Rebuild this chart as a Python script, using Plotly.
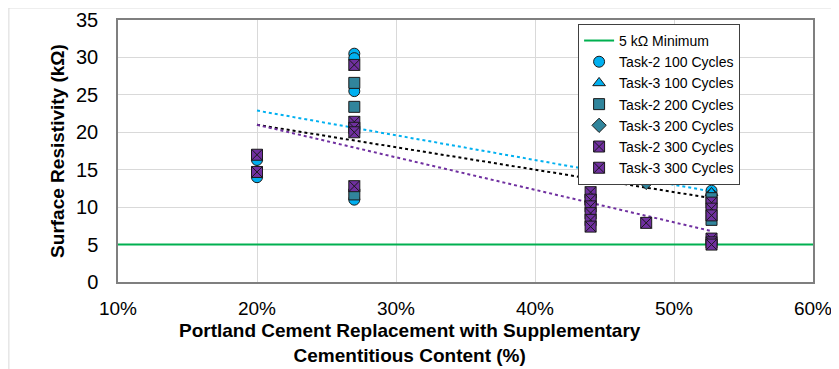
import plotly.graph_objects as go

# ---- data (x in %, y in kOhm) ----
t2_100_x = [20, 20, 27, 27, 27, 27, 52.7, 52.7]
t2_100_y = [16.3, 14.0, 30.5, 29.9, 25.5, 11.0, 12.2, 11.6]

t3_100_x = [48, 52.7]
t3_100_y = [15.6, 11.9]

t2_200_x = [27, 27, 27, 44, 52.7, 52.7]
t2_200_y = [26.6, 23.4, 11.7, 11.0, 11.2, 8.3]

t3_200_x = [44, 44, 44, 44, 48]
t3_200_y = [17.9, 17.4, 16.3, 15.2, 13.3]

t2_300_x = [20, 20, 27, 27, 27, 27, 52.7, 52.7]
t2_300_y = [17.0, 14.7, 29.0, 21.4, 20.6, 12.8, 5.8, 5.3]

t3_300_x = [27, 44, 44, 44, 44, 44, 44, 48, 52.7, 52.7, 52.7, 52.7]
t3_300_y = [20.0, 12.0, 11.0, 10.1, 9.2, 8.3, 7.4, 7.9, 10.6, 9.8, 8.9, 5.0]

min_x = [10, 60]
min_y = [5, 5]

trend_x = [20, 52.7]
trend_cyan = [22.9, 12.1]
trend_black = [21.0, 11.2]
trend_purple = [21.0, 6.8]

x_ticks = [10, 20, 30, 40, 50, 60]
x_labels = ["10%", "20%", "30%", "40%", "50%", "60%"]

CYAN = "#00B0F0"
TEAL = "#31859C"
PURPLE = "#7030A0"
GREEN = "#00B050"
EDGE = "#1a1a1a"
FONT = "Liberation Sans, Arial, sans-serif"

fig = go.Figure()

fig.add_trace(go.Scatter(x=min_x, y=min_y, mode="lines", name="5 kΩ Minimum",
                         line=dict(color=GREEN, width=2)))

for tx, ty, col in [(trend_x, trend_cyan, CYAN), (trend_x, trend_black, "#000000"),
                    (trend_x, trend_purple, PURPLE)]:
    fig.add_trace(go.Scatter(x=tx, y=ty, mode="lines", showlegend=False,
                             line=dict(color=col, width=2, dash="dot"), hoverinfo="skip"))

series = [
    ("Task-2 100 Cycles", t2_100_x, t2_100_y, "circle", CYAN),
    ("Task-3 100 Cycles", t3_100_x, t3_100_y, "triangle-up", CYAN),
    ("Task-2 200 Cycles", t2_200_x, t2_200_y, "square", TEAL),
    ("Task-3 200 Cycles", t3_200_x, t3_200_y, "diamond", TEAL),
    ("Task-2 300 Cycles", t2_300_x, t2_300_y, "square-x", PURPLE),
    ("Task-3 300 Cycles", t3_300_x, t3_300_y, "square-x", PURPLE),
]
for name, xs, ys, sym, col in series:
    fig.add_trace(go.Scatter(x=xs, y=ys, mode="markers", name=name,
                             marker=dict(symbol=sym, color=col, size=11,
                                         line=dict(color=EDGE, width=1))))

# page body adds an 8px offset, so the figure is 8px smaller and margins shifted
fig.update_layout(
    width=831, height=361,
    margin=dict(l=110, r=26, t=12, b=87, autoexpand=False),
    paper_bgcolor="white", plot_bgcolor="white",
    font=dict(family=FONT, color="#000000"),
    showlegend=True,
    legend=dict(x=0.662, y=0.985, xanchor="left", yanchor="top",
                bgcolor="white", bordercolor="#404040", borderwidth=1,
                font=dict(size=14, color="#000000"), tracegroupgap=0,
                itemwidth=30),
    annotations=[dict(text="<b>Portland Cement Replacement with Supplementary<br>Cementitious Content (%)</b>",
                      xref="paper", yref="paper", x=0.42, y=-0.138,
                      xanchor="center", yanchor="top", showarrow=False,
                      font=dict(size=19, family=FONT, color="#000000"))],
    shapes=[dict(type="rect", xref="paper", yref="paper",
                 x0=-0.157, x1=1.3, y0=-0.6, y1=1.046,
                 line=dict(color="#D9D9D9", width=1), fillcolor="rgba(0,0,0,0)",
                 layer="below")],
)
fig.update_xaxes(range=[10, 60], tickvals=x_ticks, ticktext=x_labels,
                 showgrid=True, gridcolor="#D9D9D9", gridwidth=1,
                 showline=True, linecolor="#7F7F7F", linewidth=1.5, mirror=True,
                 ticks="", tickfont=dict(size=19), zeroline=False,
                 ticklabelstandoff=8, automargin=False)
fig.update_yaxes(range=[0, 35], dtick=5,
                 showgrid=True, gridcolor="#D9D9D9", gridwidth=1,
                 showline=True, linecolor="#7F7F7F", linewidth=1.5, mirror=True,
                 ticks="", tickfont=dict(size=20), zeroline=False,
                 ticklabelstandoff=14, automargin=False,
                 title=dict(text="<b>Surface Resistivity (kΩ)</b>", font=dict(size=19), standoff=6))

fig.write_html("out.html")
